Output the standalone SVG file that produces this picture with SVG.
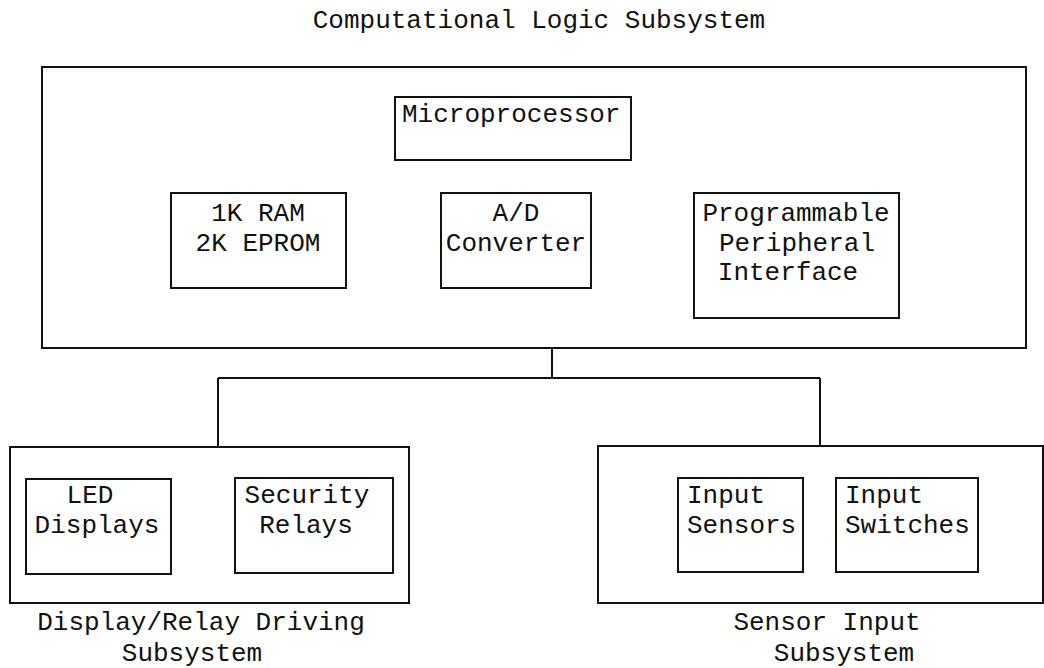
<svg xmlns="http://www.w3.org/2000/svg" width="1044" height="668" viewBox="0 0 1044 668">
<style>
.b{fill:none;stroke:#111;stroke-width:2}
.t{font-family:"Liberation Mono","Courier New",monospace;font-size:26px;fill:#111}
.m{text-anchor:middle}
.c{fill:none;stroke:#111;stroke-width:2}
</style>
<rect width="1044" height="668" fill="#fff"/>
<g id="logic">
<rect class="b" x="42" y="67" width="984" height="281"/>
<text class="t m" x="539" y="28">Computational Logic Subsystem</text>
</g>
<g id="microprocessor">
<rect class="b" x="395" y="97" width="236" height="63"/>
<text class="t" x="402" y="122">Microprocessor</text>
</g>
<g id="ram">
<rect class="b" x="171" y="193" width="175" height="95"/>
<text class="t m" x="258" y="221">1K RAM</text>
<text class="t m" x="258" y="251">2K EPROM</text>
</g>
<g id="adc">
<rect class="b" x="441" y="193" width="150" height="95"/>
<text class="t m" x="516" y="221">A/D</text>
<text class="t m" x="516" y="251">Converter</text>
</g>
<g id="ppi">
<rect class="b" x="694" y="193" width="205" height="125"/>
<text class="t m" x="796" y="221">Programmable</text>
<text class="t m" x="797" y="251">Peripheral</text>
<text class="t m" x="788" y="280">Interface</text>
</g>
<g id="display">
<rect class="b" x="10" y="447" width="399" height="156"/>
<text class="t m" x="201" y="630">Display/Relay Driving</text>
<text class="t m" x="192" y="661">Subsystem</text>
</g>
<g id="led">
<rect class="b" x="26" y="479" width="145" height="95"/>
<text class="t m" x="90" y="503">LED</text>
<text class="t m" x="97" y="533">Displays</text>
</g>
<g id="relays">
<rect class="b" x="235" y="478" width="158" height="95"/>
<text class="t m" x="307" y="503">Security</text>
<text class="t m" x="306" y="533">Relays</text>
</g>
<g id="sensorsub">
<rect class="b" x="598" y="446" width="445" height="157"/>
<text class="t m" x="827" y="630">Sensor Input</text>
<text class="t m" x="844" y="661">Subsystem</text>
</g>
<g id="sensors">
<rect class="b" x="678" y="478" width="125" height="94"/>
<text class="t" x="687" y="503">Input</text>
<text class="t" x="687" y="533">Sensors</text>
</g>
<g id="switches">
<rect class="b" x="836" y="478" width="142" height="94"/>
<text class="t" x="845" y="503">Input</text>
<text class="t" x="845" y="533">Switches</text>
</g>
<g id="connectors">
<path class="c" d="M552 348V378M218 378H820M218 378V447M820 378V446"/>
</g>
</svg>
